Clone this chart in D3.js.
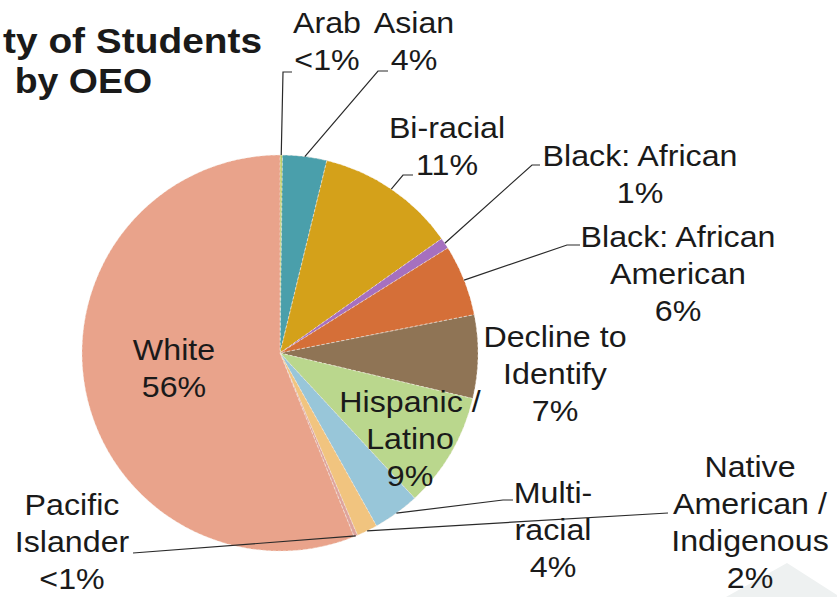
<!DOCTYPE html>
<html>
<head>
<meta charset="utf-8">
<script src="https://cdn.jsdelivr.net/npm/d3@7"></script>
<style>
  body { margin: 0; background: #fff; }
  svg { display: block; }
  text { font-family: "Liberation Sans", Arial, sans-serif; fill: #1a1a1a; }
</style>
</head>
<body>
<div id="chart"></div>
<script>
// DATA
var categories = ["Arab", "Asian", "Bi-racial", "Black: African", "Black: African American",
  "Decline to Identify", "Hispanic / Latino", "Multi-racial", "Native American / Indigenous",
  "Pacific Islander", "White"];
var shares = [0.2, 3.6, 11.4, 0.9, 5.8, 6.8, 9.4, 3.8, 1.7, 0.3, 56.1];
var pctLabels = ["<1%", "4%", "11%", "1%", "6%", "7%", "9%", "4%", "2%", "<1%", "56%"];
var labelLines = [["Arab"], ["Asian"], ["Bi-racial"], ["Black: African"], ["Black: African", "American"],
  ["Decline to", "Identify"], ["Hispanic /", "Latino"], ["Multi-", "racial"],
  ["Native", "American /", "Indigenous"], ["Pacific", "Islander"], ["White"]];
var titleLines = ["ty of Students", "by OEO"];

// colours + label layout
var colors = ["#bccb62", "#4a9fab", "#d4a11a", "#a670bf", "#d56f38", "#8f7455",
  "#bad78d", "#98c6d9", "#f1c47f", "#dea49d", "#e9a38b"];
// [centre x, first baseline, elbow x, elbow y, tick end x] (null = no leader)
var labelPos = [
  [327, 33, 283, 72, 292],
  [414, 33, 378, 71, 388],
  [447, 138, 403, 175, 413],
  [640, 166, 532, 165, 540],
  [678, 247, 567, 245, 580],
  [555, 347, null],
  [410, 412, null],
  [553, 503, 503, 500, 513],
  [750, 477, 668, 513, 668],
  [72, 515, 133, 553, 133],
  [174, 360, null]
];

var width = 837;
var height = 597;
var cx = 280, cy = 353, radius = 198;
var lineH = 37;
var stretch = 1.11;

var svg = d3.select("#chart")
  .append("svg")
  .attr("width", width)
  .attr("height", height);

// faint shape in the lower right corner
svg.append("polygon")
  .attr("points", "787,563 837,595 837,597 726,597")
  .attr("fill", "#eef1f1");

var pie = d3.pie().sort(null).value(function(d) { return d; });
var arcs = pie(shares);

var arc = d3.arc().innerRadius(0).outerRadius(radius);
var edge = d3.arc().innerRadius(radius).outerRadius(radius);

var g = svg.append("g")
  .attr("transform", "translate(" + cx + "," + cy + ")");

g.selectAll("path")
  .data(arcs)
  .enter()
  .append("path")
  .attr("d", arc)
  .attr("fill", function(d, i) { return colors[i]; })
  .attr("stroke", "#f4ece4")
  .attr("stroke-width", 0.8)
  .attr("stroke-dasharray", "3,2")
  .attr("stroke-opacity", 0.7);

// leader lines
svg.selectAll("polyline.leader")
  .data(arcs.filter(function(d, i) { return labelPos[i][2] != null; }))
  .enter()
  .append("polyline")
  .attr("class", "leader")
  .attr("fill", "none")
  .attr("stroke", "#2a2a2a")
  .attr("stroke-width", 1.2)
  .attr("points", function(d) {
    var p = labelPos[d.index];
    var e = edge.centroid(d);
    return [[cx + e[0], cy + e[1]], [p[2], p[3]], [p[4], p[3]]].join(" ");
  });

// labels
arcs.forEach(function(d, i) {
  var p = labelPos[i];
  var lines = labelLines[i].concat([pctLabels[i]]);
  var t = svg.append("text")
    .attr("transform", "translate(" + p[0] + "," + p[1] + ") scale(" + stretch + ",1)")
    .attr("text-anchor", "middle")
    .attr("font-size", "29px");
  lines.forEach(function(s, j) {
    t.append("tspan")
      .attr("x", 0)
      .attr("y", j * lineH)
      .text(s);
  });
});

// title (cut off at the left edge)
svg.append("text")
  .attr("transform", "translate(262,53) scale(1.11,1)")
  .attr("text-anchor", "end")
  .attr("font-size", "35px")
  .attr("font-weight", "bold")
  .text(titleLines[0]);
svg.append("text")
  .attr("transform", "translate(152,93) scale(1.07,1)")
  .attr("text-anchor", "end")
  .attr("font-size", "35px")
  .attr("font-weight", "bold")
  .text(titleLines[1]);
</script>
</body>
</html>
